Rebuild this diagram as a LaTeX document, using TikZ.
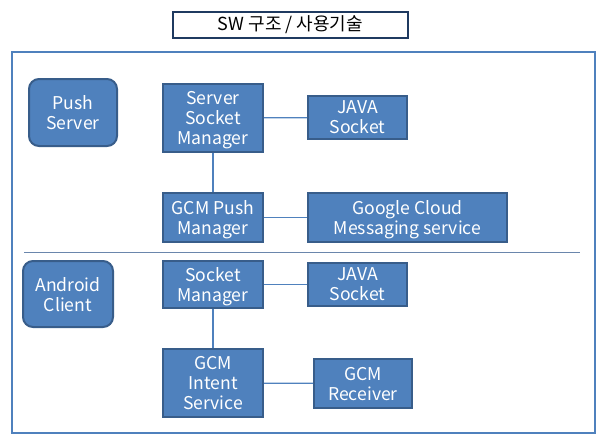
\documentclass[tikz,border=0pt]{standalone}
\usepackage{fontspec}
\setmainfont{Noto Sans CJK KR}
\usetikzlibrary{calc, positioning}
\definecolor{boxfill}{HTML}{4F81BD}
\definecolor{boxline}{HTML}{385D8A}
\definecolor{navy}{HTML}{1F3A60}
\definecolor{frameline}{HTML}{4F81BD}
\definecolor{divline}{HTML}{6A86AC}

\tikzset{
  box/.style={draw=boxline, fill=boxfill, line width=1.5pt, text=white, align=center,
    font=\fontsize{13.2pt}{15pt}\selectfont, inner sep=0pt, text depth=0pt},
  rbox/.style={box, rounded corners=7.5pt},
  link/.style={draw=boxfill, line width=0.9pt}
}

\begin{document}
\begin{tikzpicture}[x=0.75pt, y=-0.75pt]
      \useasboundingbox (0,0) rectangle (607,444);

      \node[draw=navy, line width=1.5pt, minimum width=176.25pt, minimum height=19.5pt, inner sep=0pt,
        font=\fontsize{13.5pt}{15pt}\selectfont] (title) at (290.5, 25) {SW 구조 / 사용기술};

      \draw[frameline, line width=1.5pt] (12, 52) rectangle (595, 433);
      \draw[divline, line width=0.75pt] (24, 252) -- (580, 252);

      \node[rbox, minimum width=66pt, minimum height=50.25pt] (push) at (73, 112.5) {Push\\Server};
      \node[rbox, minimum width=67.5pt, minimum height=49.5pt] (android) at (68, 294) {Android\\Client};

      \node[box, minimum width=75pt, minimum height=51pt] (ssm) at (213, 118) {Server\\Socket\\Manager};
      \node[box, minimum width=74.25pt, minimum height=32.25pt] (java1) at (357.5, 117.5) {JAVA\\Socket};
      \node[box, minimum width=75pt, minimum height=36.75pt] (gcmpush) at (213, 217.5) {GCM Push\\Manager};
      \node[box, minimum width=149.25pt, minimum height=36.75pt] (gcs) at (407.5, 217.5) {Google Cloud\\Messaging service};

      \node[box, minimum width=75pt, minimum height=35.25pt] (sockman) at (213, 284.5) {Socket\\Manager};
      \node[box, minimum width=74.25pt, minimum height=32.25pt] (java2) at (357.5, 284.5) {JAVA\\Socket};
      \node[box, minimum width=75pt, minimum height=51pt] (intent) at (213, 383) {GCM\\Intent\\Service};
      \node[box, minimum width=73.5pt, minimum height=36.75pt] (receiver) at (363, 383.5) {GCM\\Receiver};

      \draw[link] (ssm) -- (java1);
      \draw[link] (ssm) -- (gcmpush);
      \draw[link] (gcmpush) -- (gcs);
      \draw[link] (sockman) -- (java2);
      \draw[link] (sockman) -- (intent);
      \draw[link] (intent) -- (receiver);
  \end{tikzpicture}
\end{document}
